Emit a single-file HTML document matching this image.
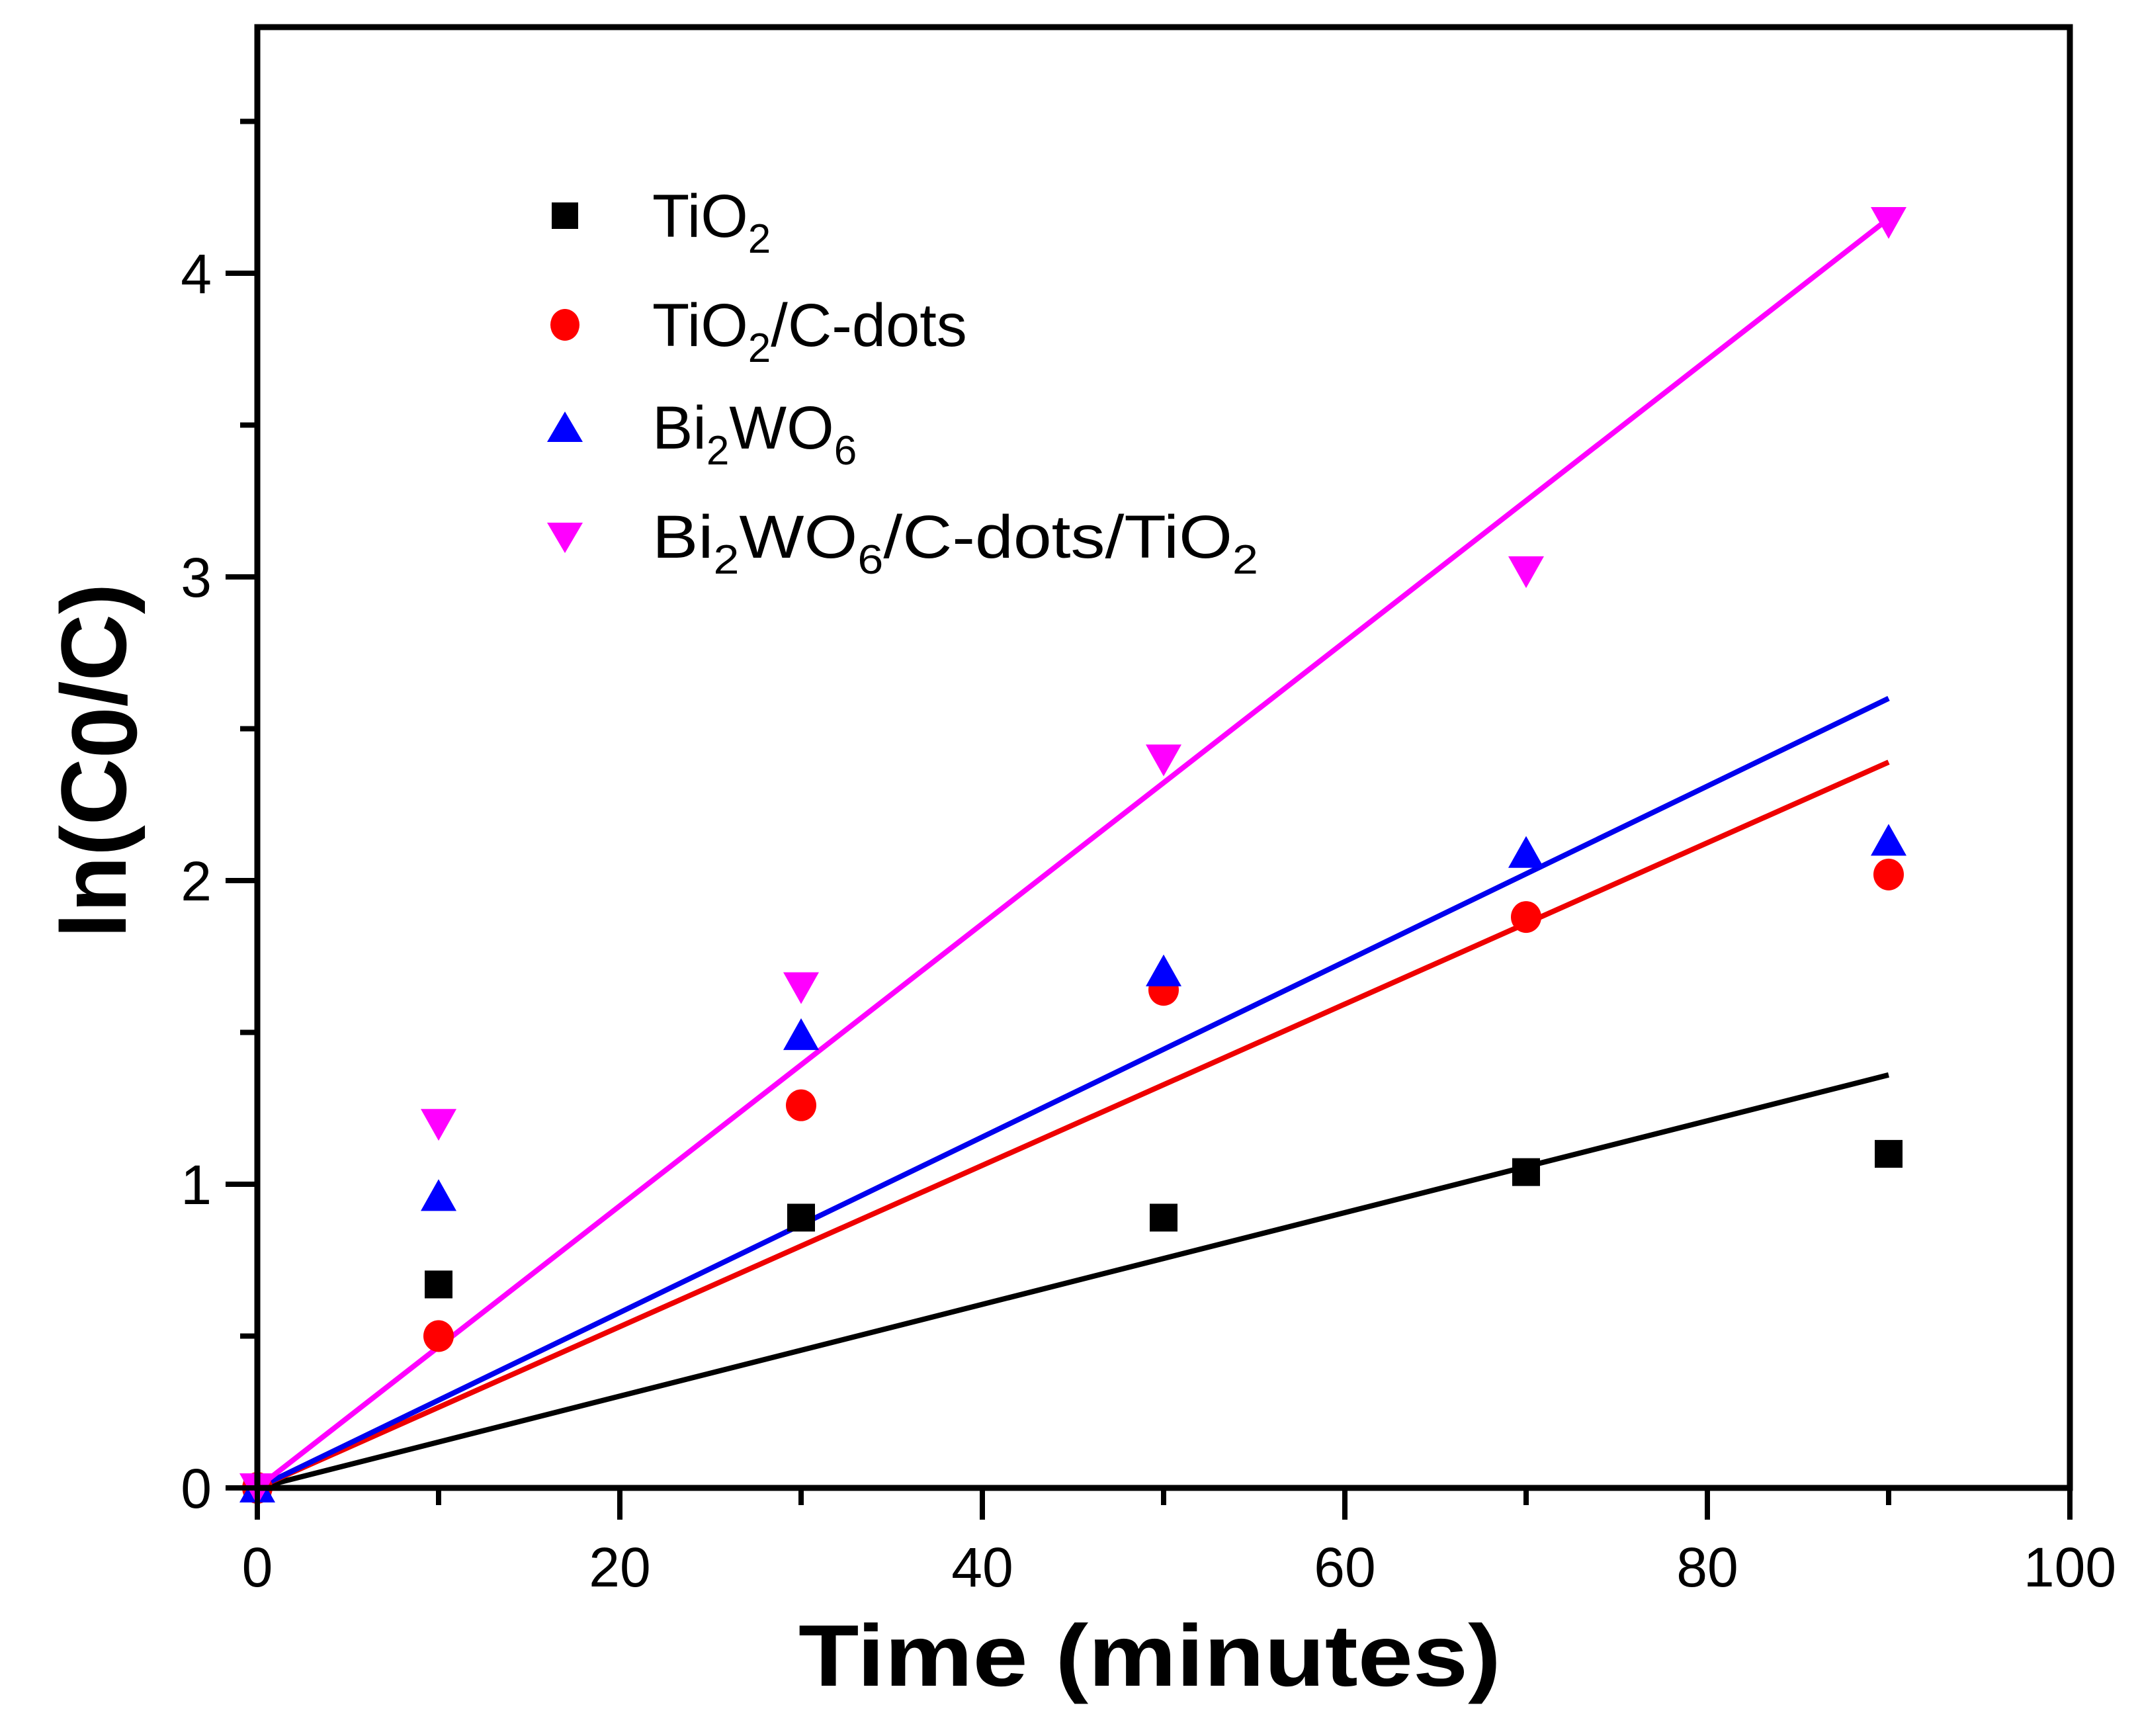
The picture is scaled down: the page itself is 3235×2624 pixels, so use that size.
<!DOCTYPE html>
<html><head><meta charset="utf-8"><style>
html,body{margin:0;padding:0;background:#fff;}
svg{display:block;font-family:"Liberation Sans",Arial,sans-serif;}
</style></head><body>
<svg id="chart" width="3235" height="2624" viewBox="0 0 3235 2624" xmlns="http://www.w3.org/2000/svg">
<rect width="3235" height="2624" fill="#fff"/>
<g id="plot"></g>
<g id="axes"></g>
<g id="legend">
  <rect x="834" y="306" width="40" height="40" fill="#000"/>
  <text x="986" y="358" font-size="92">TiO<tspan font-size="62" dy="24">2</tspan></text>
  <ellipse cx="854" cy="491" rx="22" ry="24" fill="#f00"/>
  <text x="986" y="523" font-size="92">TiO<tspan font-size="62" dy="24">2</tspan><tspan dy="-24">/C-dots</tspan></text>
  <polygon points="854,622 881,668 827,668" fill="#00f"/>
  <text x="986" y="678" font-size="92">Bi<tspan font-size="62" dy="24">2</tspan><tspan dy="-24">WO</tspan><tspan font-size="62" dy="24">6</tspan></text>
  <polygon points="827,790 881,790 854,836" fill="#f0f"/>
  <text x="986" y="843" font-size="92" textLength="916" lengthAdjust="spacingAndGlyphs">Bi<tspan font-size="62" dy="24">2</tspan><tspan dy="-24">WO</tspan><tspan font-size="62" dy="24">6</tspan><tspan dy="-24">/C-dots/TiO</tspan><tspan font-size="62" dy="24">2</tspan></text>
</g>
<text x="1738" y="2548" font-size="132" font-weight="bold" text-anchor="middle" textLength="1062" lengthAdjust="spacingAndGlyphs">Time (minutes)</text>
<text transform="translate(190,1150) rotate(-90)" font-size="140" font-weight="bold" text-anchor="middle">ln(C<tspan dy="16">0</tspan><tspan dy="-16">/C)</tspan></text>
</svg>
<script>
const categories = [0, 10, 30, 50, 70, 90];
const seriesNames = ["TiO2", "TiO2/C-dots", "Bi2WO6", "Bi2WO6/C-dots/TiO2"];
const tio2 = [0, 0.67, 0.89, 0.89, 1.04, 1.10];
const tio2Cdots = [0, 0.50, 1.26, 1.64, 1.88, 2.02];
const bi2wo6 = [0, 0.96, 1.49, 1.70, 2.09, 2.13];
const composite = [0, 1.20, 1.65, 2.40, 3.02, 4.17];
const fitEnd = [1.36, 2.39, 2.60, 4.18];
const fitX = [0, 90];
const xTicks = [0, 20, 40, 60, 80, 100];
const xMinor = [10, 30, 50, 70, 90];
const yTicks = [0, 1, 2, 3, 4];
const yMinor = [0.5, 1.5, 2.5, 3.5, 4.5];

const X0 = 389, X1 = 3129, Y0 = 2249, YTOP = 41;
const xs = v => X0 + (v - 0) / 100 * (X1 - X0);
const ys = v => Y0 - v * 459;
const NS = "http://www.w3.org/2000/svg";
function mk(tag, attrs, parent) {
  const e = document.createElementNS(NS, tag);
  for (const k in attrs) e.setAttribute(k, attrs[k]);
  parent.appendChild(e);
  return e;
}
const plot = document.getElementById('plot');
const axes = document.getElementById('axes');
const colors = ["#000", "#e00", "#00e", "#f0f"];
const data = [tio2, tio2Cdots, bi2wo6, composite];
const keys = ["tio2", "tio2-cdots", "bi2wo6", "composite"];

data.forEach((s, i) => {
  const l = mk('line', {x1: xs(fitX[0]), y1: ys(0), x2: xs(fitX[1]), y2: ys(fitEnd[i]), stroke: colors[i], 'stroke-width': 8}, plot);
  
  
});
const fills = ["#000", "#f00", "#00f", "#f0f"];
data.forEach((s, i) => {
  s.forEach((v, j) => {
    const cx = xs(categories[j]), cy = ys(v);
    let m;
    if (i === 0) m = mk('rect', {x: cx - 21, y: cy - 21, width: 42, height: 42, fill: fills[i]}, plot);
    else if (i === 1) m = mk('ellipse', {cx: cx, cy: cy, rx: 23, ry: 24, fill: fills[i]}, plot);
    else if (i === 2) m = mk('polygon', {points: `${cx},${cy-26} ${cx+27},${cy+22} ${cx-27},${cy+22}`, fill: fills[i]}, plot);
    else m = mk('polygon', {points: `${cx-27},${cy-22} ${cx+27},${cy-22} ${cx},${cy+26}`, fill: fills[i]}, plot);
    
    
  });
});
const fr = mk('rect', {x: X0, y: YTOP, width: X1 - X0, height: Y0 - YTOP, fill: 'none', stroke: '#000', 'stroke-width': 9}, axes);


xTicks.forEach(v => {
  const t = mk('line', {x1: xs(v), y1: Y0, x2: xs(v), y2: Y0 + 48, stroke: '#000', 'stroke-width': 8}, axes);
  
  
  const lb = mk('text', {x: xs(v), y: 2398, 'font-size': 84, 'text-anchor': 'middle'}, axes);
  lb.textContent = v;
  
  
});
xMinor.forEach(v => {
  const t = mk('line', {x1: xs(v), y1: Y0, x2: xs(v), y2: Y0 + 26, stroke: '#000', 'stroke-width': 8}, axes);
  
  
});
yTicks.forEach(v => {
  const t = mk('line', {x1: X0, y1: ys(v), x2: X0 - 48, y2: ys(v), stroke: '#000', 'stroke-width': 8}, axes);
  
  
  const lb = mk('text', {x: 320, y: ys(v) + 30, 'font-size': 84, 'text-anchor': 'end'}, axes);
  lb.textContent = v;
  
  
});
yMinor.forEach(v => {
  const t = mk('line', {x1: X0, y1: ys(v), x2: X0 - 26, y2: ys(v), stroke: '#000', 'stroke-width': 8}, axes);
  
  
});
</script>
</body></html>
